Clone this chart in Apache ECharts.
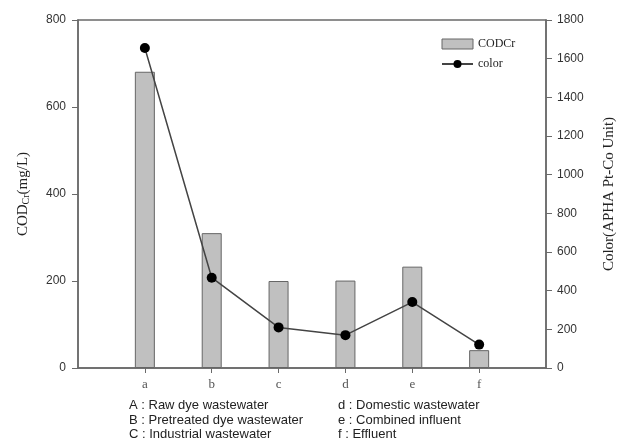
<!DOCTYPE html>
<html>
<head>
<meta charset="utf-8">
<script src="https://cdn.jsdelivr.net/npm/echarts@6/dist/echarts.min.js"></script>
<style>html,body{margin:0;padding:0;background:#fff}#c{width:622px;height:446px}</style>
</head>
<body>
<div id="c"></div>
<script>
var categories = ['a', 'b', 'c', 'd', 'e', 'f'];
var codValues = [681, 310, 200, 201, 233, 41];
var colorValues = [1655, 467, 210, 170, 341, 121];
var leftTicks = [0, 200, 400, 600, 800];
var rightTicks = [0, 200, 400, 600, 800, 1000, 1200, 1400, 1600, 1800];
var notesLeft = ['A : Raw dye wastewater', 'B : Pretreated dye wastewater', 'C : Industrial wastewater'];
var notesRight = ['d : Domestic wastewater', 'e : Combined influent', 'f : Effluent'];

var positions = categories.map(function (c, i) { return i + 1; });
var barData = codValues.map(function (v, i) { return [positions[i], v]; });
var lineData = colorValues.map(function (v, i) { return [positions[i], v]; });

var axisGrey = '#6a6a6a';
var chart = echarts.init(document.getElementById('c'));
var graphics = [];
notesLeft.forEach(function (t, i) {
  graphics.push({type: 'text', left: 129, top: 399 + i * 14.5, style: {text: t, font: '13px "Liberation Sans", Arial, sans-serif', fill: '#222'}});
});
notesRight.forEach(function (t, i) {
  graphics.push({type: 'text', left: 338, top: 399 + i * 14.5, style: {text: t, font: '13px "Liberation Sans", Arial, sans-serif', fill: '#222'}});
});

chart.setOption({
  animation: false,
  grid: {left: 78, right: 76, top: 20, bottom: 78, show: true, borderColor: axisGrey, borderWidth: 1.5, backgroundColor: 'transparent', containLabel: false, outerBoundsMode: 'none'},
  legend: {
    orient: 'vertical', left: 436, top: 33, itemWidth: 31, itemHeight: 10, itemGap: 8,
    textStyle: {fontFamily: '"Liberation Serif", "Times New Roman", serif', fontSize: 12, color: '#222'},
    data: [
      {name: 'CODCr', icon: 'rect', itemStyle: {color: '#c0c0c0', borderColor: '#666', borderWidth: 1}},
      {name: 'color'}
    ]
  },
  xAxis: {
    type: 'value', min: 0, max: 7, interval: 1,
    axisLine: {lineStyle: {color: axisGrey, width: 1.5}},
    axisTick: {show: true, length: 5, customValues: positions, lineStyle: {color: axisGrey}},
    splitLine: {show: false},
    axisLabel: {
      customValues: positions, margin: 10,
      formatter: function (v) { return categories[v - 1] || ''; },
      fontFamily: '"Liberation Serif", "Times New Roman", serif', fontSize: 13, color: '#555'
    }
  },
  yAxis: [
    {
      type: 'value', min: 0, max: 800, interval: 200, position: 'left',
      name: '{a|COD}{s|Cr}{a|(mg/L)}', nameLocation: 'middle', nameGap: 47, nameRotate: 90,
      nameTextStyle: {
        rich: {
          a: {fontFamily: '"Liberation Serif", "Times New Roman", serif', fontSize: 15, color: '#222'},
          s: {fontFamily: '"Liberation Serif", "Times New Roman", serif', fontSize: 10, color: '#222', verticalAlign: 'bottom', padding: [6, 0, 0, 0]}
        }
      },
      axisLine: {show: true, lineStyle: {color: axisGrey, width: 1.5}},
      axisTick: {show: true, length: 6, lineStyle: {color: axisGrey}},
      splitLine: {show: false},
      axisLabel: {margin: 12, formatter: function (v) { return String(v); }, fontFamily: '"Liberation Sans", Arial, sans-serif', fontSize: 12, color: '#333'}
    },
    {
      type: 'value', min: 0, max: 1800, interval: 200, position: 'right',
      name: 'Color(APHA Pt-Co Unit)', nameLocation: 'middle', nameGap: 56, nameRotate: 90,
      nameTextStyle: {fontFamily: '"Liberation Serif", "Times New Roman", serif', fontSize: 15, color: '#222'},
      axisLine: {show: true, lineStyle: {color: axisGrey, width: 1.5}},
      axisTick: {show: true, length: 6, lineStyle: {color: axisGrey}},
      splitLine: {show: false},
      axisLabel: {margin: 11, formatter: function (v) { return String(v); }, fontFamily: '"Liberation Sans", Arial, sans-serif', fontSize: 12, color: '#333'}
    }
  ],
  series: [
    {
      name: 'CODCr', type: 'bar', yAxisIndex: 0, barWidth: 20, data: barData,
      itemStyle: {color: '#c0c0c0', borderColor: '#666', borderWidth: 1}
    },
    {
      name: 'color', type: 'line', yAxisIndex: 1, data: lineData,
      symbol: 'circle', symbolSize: 10, z: 5,
      lineStyle: {color: '#444', width: 1.5},
      itemStyle: {color: '#000'}
    }
  ],
  graphic: graphics
});
</script>
</body>
</html>
